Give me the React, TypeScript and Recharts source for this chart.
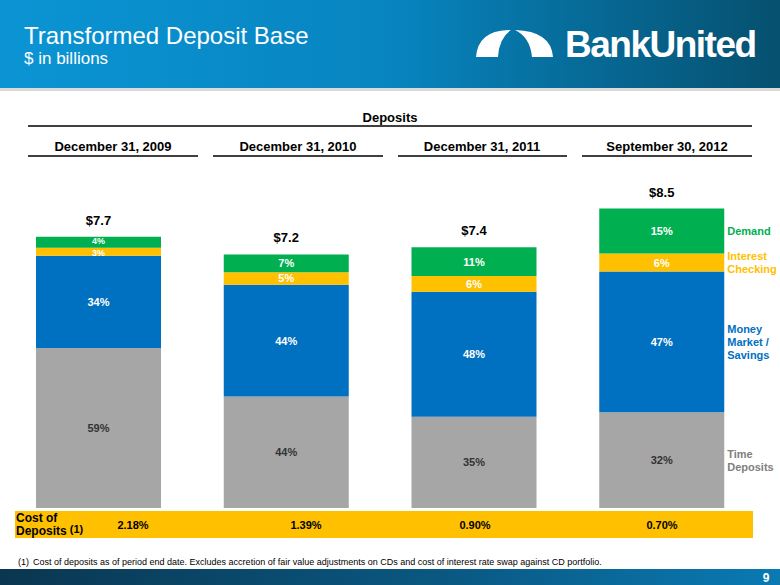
import React from "react";
import { Bar, BarChart, LabelList, XAxis, YAxis } from "recharts";

const categories = ["December 31, 2009", "December 31, 2010", "December 31, 2011", "September 30, 2012"];
const totals = [7.7, 7.2, 7.4, 8.5];
const timePct = [59, 44, 35, 32];
const moneyPct = [34, 44, 48, 47];
const checkingPct = [3, 5, 6, 6];
const demandPct = [4, 7, 11, 15];
const costOfDeposits = ["2.18%", "1.39%", "0.90%", "0.70%"];

const FONT = "'Liberation Sans', Arial, sans-serif";
const GREEN = "#00B050";
const YELLOW = "#FFC000";
const BLUE = "#0070C0";
const GRAY = "#A6A6A6";

const data = categories.map((name, i) => ({
  name,
  time: (totals[i] * timePct[i]) / 100,
  money: (totals[i] * moneyPct[i]) / 100,
  checking: (totals[i] * checkingPct[i]) / 100,
  demand: (totals[i] * demandPct[i]) / 100,
}));

const legendLines: Record<string, string[]> = {
  demand: ["Demand"],
  checking: ["Interest", "Checking"],
  money: ["Money", "Market /", "Savings"],
  time: ["Time", "Deposits"],
};
const legendColor: Record<string, string> = {
  demand: GREEN,
  checking: YELLOW,
  money: BLUE,
  time: "#808080",
};

function segmentLabel(key: string, pcts: number[], color: string) {
  return (props: any) => {
    const { x, y, width, height, index } = props;
    const cx = x + width / 2;
    const cy = y + height / 2;
    const lines = legendLines[key];
    const lh = 13;
    // tiny segments (2009 checking/demand) get a smaller font so the labels don't collide
    const small = height < 12;
    const nudge = small ? (key === "demand" ? -1.5 : 1.5) : 0;
    return (
      <g>
        <text
          x={cx}
          y={cy + (small ? 3 : 4) + nudge}
          textAnchor="middle"
          fill={color}
          fontFamily={FONT}
          fontSize={small ? 9 : 11}
          fontWeight="bold"
        >
          {pcts[index]}%
        </text>
        {index === categories.length - 1 &&
          lines.map((l, j) => (
            <text
              key={j}
              x={x + width + 3}
              y={cy + 4 + (j - (lines.length - 1) / 2) * lh}
              fill={legendColor[key]}
              fontFamily={FONT}
              fontSize={11}
              fontWeight="bold"
            >
              {l}
            </text>
          ))}
      </g>
    );
  };
}

const totalLabel = (props: any) => {
  const { x, y, width, index } = props;
  return (
    <text x={x + width / 2} y={y - 12} textAnchor="middle" fill="#000" fontFamily={FONT} fontSize={13} fontWeight="bold">
      ${totals[index].toFixed(1)}
    </text>
  );
};

const headerCenters = [113, 298, 482, 667];
const underlines = [
  [28, 198],
  [213, 383],
  [398, 567],
  [582, 752],
];
const costX = [133, 306, 475, 662];

export default function App() {
  return (
    <div style={{ position: "relative", width: 780, height: 585, overflow: "hidden", background: "#fff" }}>
      <style>{"body{margin:0}"}</style>
      <svg width={780} height={585} style={{ position: "absolute", left: 0, top: 0 }}>
        <defs>
          <linearGradient id="hdr" x1="0" y1="0" x2="1" y2="0">
            <stop offset="0" stopColor="#0b94d4" />
            <stop offset="0.5" stopColor="#0785c0" />
            <stop offset="1" stopColor="#06506f" />
          </linearGradient>
          <linearGradient id="ftr" x1="0" y1="0" x2="1" y2="0">
            <stop offset="0" stopColor="#0a3650" />
            <stop offset="0.6" stopColor="#0a5a85" />
            <stop offset="1" stopColor="#0a7ab3" />
          </linearGradient>
        </defs>
        <rect x={0} y={0} width={780} height={88} fill="url(#hdr)" />
        <rect x={0} y={88} width={780} height={3} fill="#d9d9d9" />
        <text x={24} y={44} fill="#fff" fontFamily={FONT} fontSize={24}>
          Transformed Deposit Base
        </text>
        <text x={24} y={64} fill="#fff" fontFamily={FONT} fontSize={17}>
          $ in billions
        </text>
        <path d="M476,57 Q478,31 508,30 L511,30 Q499,38 498,57 Z" fill="#fff" />
        <path d="M515,30 Q551,31 553,57 L532,57 Q530,37 515,30 Z" fill="#fff" />
        <text x={565} y={57} fill="#fff" fontFamily={FONT} fontSize={37} fontWeight="bold" letterSpacing={-1.5}>
          BankUnited
        </text>

        <text x={390} y={122} textAnchor="middle" fontFamily={FONT} fontSize={13} fontWeight="bold">
          Deposits
        </text>
        <line x1={28} x2={752} y1={126} y2={126} stroke="#000" strokeWidth={1.5} />
        {categories.map((c, i) => (
          <text key={c} x={headerCenters[i]} y={151} textAnchor="middle" fontFamily={FONT} fontSize={13} fontWeight="bold">
            {c}
          </text>
        ))}
        {underlines.map(([a, b], i) => (
          <line key={i} x1={a} x2={b} y1={156} y2={156} stroke="#000" strokeWidth={1.5} />
        ))}

        <rect x={15} y={511} width={738} height={27} fill={YELLOW} />
        <text x={16} y={522} fontFamily={FONT} fontSize={12} fontWeight="bold">
          Cost of
        </text>
        <text x={16} y={535} fontFamily={FONT} fontSize={12} fontWeight="bold">
          Deposits
          <tspan fontSize={11} dy={-2}> (1)</tspan>
        </text>
        {costOfDeposits.map((v, i) => (
          <text key={i} x={costX[i]} y={529} textAnchor="middle" fontFamily={FONT} fontSize={11} fontWeight="bold">
            {v}
          </text>
        ))}

        <text x={18} y={565} fontFamily={FONT} fontSize={9} fill="#000">
          (1)
        </text>
        <text x={33} y={565} fontFamily={FONT} fontSize={9} fill="#000">
          Cost of deposits as of period end date. Excludes accretion of fair value adjustments on CDs and cost of interest rate swap against CD portfolio.
        </text>
        <rect x={0} y={569} width={780} height={16} fill="url(#ftr)" />
        <text x={766} y={582} textAnchor="middle" fill="#fff" fontFamily={FONT} fontSize={12} fontWeight="bold">
          9
        </text>
      </svg>

      <div style={{ position: "absolute", left: 0, top: 0 }}>
        <BarChart
          width={780}
          height={585}
          data={data}
          margin={{ top: 191, right: 24, bottom: 77, left: 5 }}
          barSize={125}
        >
          <XAxis dataKey="name" hide />
          <YAxis hide domain={[0, 9]} />
          <Bar dataKey="time" stackId="a" fill={GRAY} isAnimationActive={false}>
            <LabelList dataKey="time" content={segmentLabel("time", timePct, "#333")} />
          </Bar>
          <Bar dataKey="money" stackId="a" fill={BLUE} isAnimationActive={false}>
            <LabelList dataKey="money" content={segmentLabel("money", moneyPct, "#fff")} />
          </Bar>
          <Bar dataKey="checking" stackId="a" fill={YELLOW} isAnimationActive={false}>
            <LabelList dataKey="checking" content={segmentLabel("checking", checkingPct, "#fff")} />
          </Bar>
          <Bar dataKey="demand" stackId="a" fill={GREEN} isAnimationActive={false}>
            <LabelList dataKey="demand" content={segmentLabel("demand", demandPct, "#fff")} />
            <LabelList dataKey="demand" content={totalLabel} />
          </Bar>
        </BarChart>
      </div>
    </div>
  );
}
